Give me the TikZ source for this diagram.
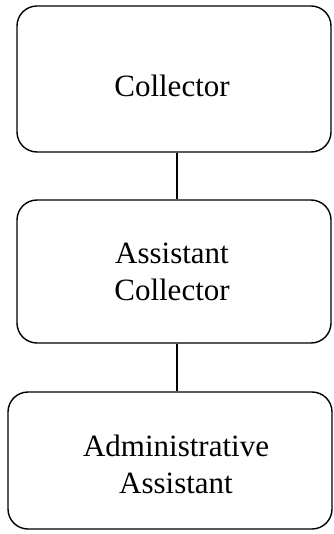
\documentclass[tikz,border=0pt]{standalone}
\usepackage{fontspec}
\setmainfont{Liberation Serif}
\begin{document}
\begin{tikzpicture}[x=1pt,y=-1pt,
  box/.style={draw,line width=1.4pt,rounded corners=20pt,inner sep=0pt},
  lbl/.style={align=center,inner sep=0pt,font=\fontsize{31}{37}\selectfont},
  link/.style={line width=1.4pt}]
\useasboundingbox (0,0) rectangle (333,534);
\node[box,minimum width=314pt,minimum height=146pt] (b1) at (174,79) {};
\node[box,minimum width=314pt,minimum height=143pt] (b2) at (174,271.5) {};
\node[box,minimum width=324pt,minimum height=137pt] (b3) at (170,460.5) {};
\node[lbl,anchor=base] (t1) at (172,97) {Collector};
\node[lbl,anchor=base] (t2) at (172,300) {Assistant\\Collector};
\node[lbl,anchor=base] (t3) at (176,493) {Administrative\\Assistant};
\draw[link] ([xshift=3pt]b1.south) -- ([xshift=3pt]b2.north);
\draw[link] ([xshift=3pt]b2.south) -- ([xshift=7pt]b3.north);
\end{tikzpicture}
\end{document}
